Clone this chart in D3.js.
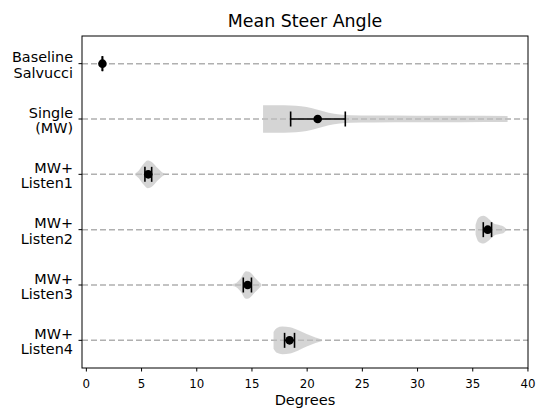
<!DOCTYPE html>
<html><head><meta charset="utf-8">
<script src="https://cdn.jsdelivr.net/npm/d3@7/dist/d3.min.js"></script>
<style>body{margin:0;background:#fff}svg{display:block}text{font-family:"DejaVu Sans",sans-serif;fill:#000}</style>
</head><body><svg id="c" width="536" height="409"></svg>
<script>
const categories = [["Baseline","Salvucci"],["Single","(MW)"],["MW+","Listen1"],["MW+","Listen2"],["MW+","Listen3"],["MW+","Listen4"]];
const means = [1.5, 21.0, 5.65, 36.4, 14.65, 18.45];
const errLo = [1.48, 18.55, 5.35, 36.0, 14.26, 18.0];
const errHi = [1.52, 23.5, 5.96, 36.75, 15.0, 18.9];
// violin profiles: [degrees, relative density]
const violins = [
  [],
  [[16.05,1.0],[17,1.0],[18,0.99],[19,0.96],[20,0.86],[21,0.66],[22,0.45],[23,0.32],[24,0.27],[26,0.25],[30,0.24],[34,0.23],[38.2,0.22]],
  [[4.45,0.05],[4.8,0.28],[5.2,0.72],[5.6,1.0],[6.0,0.88],[6.5,0.45],[6.9,0.15],[7.17,0.03]],
  [[35.3,0.35],[35.55,0.85],[36.0,1.0],[36.5,0.78],[37.0,0.42],[37.5,0.32],[37.9,0.2],[38.1,0.05]],
  [[12.9,0.03],[13.5,0.1],[14.0,0.45],[14.5,1.0],[14.8,0.95],[15.3,0.55],[15.9,0.05]],
  [[17.0,0.6],[17.3,0.9],[17.8,1.0],[18.5,0.95],[19.2,0.75],[20,0.45],[20.8,0.2],[21.4,0.05]]
];
const xTicks = [0,5,10,15,20,25,30,35,40];

const svg = d3.select("#c");
const L=82, R=528, T=36, B=368;
const x = d3.scaleLinear().domain([-0.35,40.05]).range([L,R]);
const y = d3.scaleLinear().domain([0.5,6.5]).range([T,B]);
const halfW = 0.25;

categories.forEach((c,i)=>{
  svg.append("line").attr("x1",L).attr("x2",R).attr("y1",y(i+1)).attr("y2",y(i+1))
    .attr("stroke","#b0b0b0").attr("stroke-width",1.5).attr("stroke-dasharray","6,3");
});

violins.forEach((v,i)=>{
  if(!v.length) return;
  const c=i+1;
  const area = d3.area().x(d=>x(d[0])).y0(d=>y(c - d[1]*halfW)).y1(d=>y(c + d[1]*halfW)).curve(d3.curveMonotoneX);
  svg.append("path").attr("d",area(v)).attr("fill","#bfbfbf").attr("fill-opacity",0.65);
});

categories.forEach((c,i)=>{
  const cy=y(i+1);
  const g=svg.append("g").attr("stroke","#000").attr("stroke-width",1.6);
  g.append("line").attr("x1",x(errLo[i])).attr("x2",x(errHi[i])).attr("y1",cy).attr("y2",cy);
  [errLo[i],errHi[i]].forEach(v=>g.append("line").attr("x1",x(v)).attr("x2",x(v)).attr("y1",cy-7.5).attr("y2",cy+7.5));
  svg.append("circle").attr("cx",x(means[i])).attr("cy",cy).attr("r",4.3).attr("fill","#000");
});

svg.append("rect").attr("x",L).attr("y",T).attr("width",R-L).attr("height",B-T).attr("fill","none").attr("stroke","#000").attr("stroke-width",1);

const xa = svg.append("g").attr("transform",`translate(0,${B})`).call(d3.axisBottom(x).tickValues(xTicks).tickSize(3.5).tickPadding(3.5));
xa.select(".domain").remove();
xa.selectAll("text").attr("font-size",11.8).attr("font-family","DejaVu Sans").attr("dy",null).attr("y",20);
xa.selectAll("line").attr("stroke","#000");

categories.forEach((c,i)=>{
  const cy=y(i+1);
  svg.append("line").attr("x1",L-3.5).attr("x2",L).attr("y1",cy).attr("y2",cy).attr("stroke","#000");
  const t=svg.append("text").attr("text-anchor","end").attr("font-size",14.4).attr("x",L-9);
  t.append("tspan").attr("x",L-9).attr("y",cy-1.5).text(c[0]);
  t.append("tspan").attr("x",L-9).attr("y",cy+14).text(c[1]);
});

svg.append("text").attr("x",(L+R)/2).attr("y",405).attr("text-anchor","middle").attr("font-size",14.6).text("Degrees");
svg.append("text").attr("x",(L+R)/2).attr("y",26.5).attr("text-anchor","middle").attr("font-size",17.4).text("Mean Steer Angle");
</script></body></html>
